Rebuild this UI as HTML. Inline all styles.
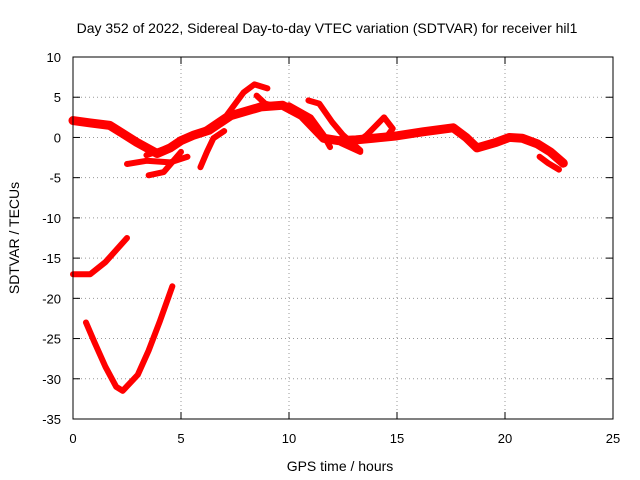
<!DOCTYPE html>
<html><head><meta charset="utf-8"><style>
body{margin:0;background:#fff}
svg{display:block;font-family:"Liberation Sans",sans-serif;font-size:13px}
</style></head><body>
<svg id="chart" width="640" height="480" viewBox="0 0 640 480">
<text x="327" y="33" text-anchor="middle" font-size="14">Day 352 of 2022, Sidereal Day-to-day VTEC variation (SDTVAR) for receiver hil1</text>
<g id="grid"></g>
<g id="marks"></g>
<rect x="73" y="57" width="540" height="362" fill="none" stroke="#000" stroke-width="1"/>
<g id="ticks"></g>
<text x="340" y="471" text-anchor="middle" font-size="14">GPS time / hours</text>
<text transform="translate(19,238) rotate(-90)" text-anchor="middle" font-size="14">SDTVAR / TECUs</text>
</svg>
<script>
const xTicks=[0,5,10,15,20,25];
const yTicks=[10,5,0,-5,-10,-15,-20,-25,-30,-35];
const seriesMain=[[0,2.1],[0.8,1.8],[1.7,1.5],[2.3,0.5],[2.95,-0.6],[3.9,-2],[4.5,-1.3],[5,-0.4],[5.6,0.3],[6.3,0.9],[7.3,2.7],[8.7,3.8],[9.7,4],[10.6,2.7],[11.6,-0.1],[12.3,-0.4],[13.1,-0.3],[13.9,-0.1],[15,0.2],[16.2,0.7],[17.6,1.2],[18.2,0],[18.7,-1.3],[19.6,-0.6],[20.2,0],[20.8,-0.1],[21.5,-0.8],[22.1,-1.8],[22.7,-3.2]];
const seriesEnd2=[[21.6,-2.4],[22,-3.2],[22.5,-4]];
const seriesUp=[[3.4,-2.2],[4.5,-1.2],[6,0.7],[7.1,2.7],[7.9,5.6],[8.4,6.6],[9,6.1]];
const seriesUp2=[[8.5,5.2],[8.9,4.2],[9.5,3.8]];
const seriesLow1=[[2.5,-3.3],[3.4,-2.9],[4.5,-3.1],[5.3,-2.4]];
const seriesLow2=[[3.5,-4.7],[4.2,-4.3],[5,-1.8]];
const seriesRise=[[5.9,-3.7],[6.2,-1.8],[6.5,-0.1],[7,0.8]];
const seriesMid=[[10.9,4.6],[11.4,4.2],[12,1.9],[12.5,0.3],[13.3,-1.6]];
const seriesMid2=[[10,4],[11,2.5],[11.6,0.3],[11.9,-1.2]];
const seriesMid3=[[12.4,-0.7],[13.3,-1.8]];
const seriesLoop=[[13.3,-0.3],[13.6,0.3],[14.4,2.5],[14.8,1.1],[14.5,0]];
const seriesC=[[0,-17],[0.8,-17],[1.5,-15.5],[2.5,-12.5]];
const seriesD=[[0.6,-23],[1,-25.5],[1.5,-28.5],[2,-31],[2.3,-31.5],[3,-29.5],[3.5,-26.5],[4,-23],[4.6,-18.5]];
const allSeries=[seriesMain,seriesEnd2,seriesUp,seriesUp2,seriesLow1,seriesLow2,seriesRise,seriesMid,seriesMid2,seriesMid3,seriesLoop,seriesC,seriesD];
const X=v=>73+v*540/25, Y=v=>57+(10-v)*362/45;
const NS="http://www.w3.org/2000/svg";
const grid=document.getElementById('grid'),ticks=document.getElementById('ticks'),marks=document.getElementById('marks');
function mk(tag,attrs,parent){const e=document.createElementNS(NS,tag);for(const k in attrs)e.setAttribute(k,attrs[k]);parent.appendChild(e);return e;}
xTicks.forEach(t=>{
 const gl=mk('line',{x1:X(t),x2:X(t),y1:57,y2:419,stroke:'#999','stroke-dasharray':'1,3'},grid);
 
 
 const tx=mk('text',{x:X(t),y:443,'text-anchor':'middle'},ticks);tx.textContent=t;
 
 
 mk('line',{x1:X(t),x2:X(t),y1:419,y2:412,stroke:'#000'},ticks);
 mk('line',{x1:X(t),x2:X(t),y1:57,y2:64,stroke:'#000'},ticks);
});
yTicks.forEach(t=>{
 const gl=mk('line',{x1:73,x2:613,y1:Y(t),y2:Y(t),stroke:'#999','stroke-dasharray':'1,3'},grid);
 
 
 const tx=mk('text',{x:61,y:Y(t)+5,'text-anchor':'end'},ticks);tx.textContent=t;
 
 
 mk('line',{x1:73,x2:80,y1:Y(t),y2:Y(t),stroke:'#000'},ticks);
 mk('line',{x1:613,x2:606,y1:Y(t),y2:Y(t),stroke:'#000'},ticks);
});
allSeries.forEach((s,i)=>{
 const p=mk('polyline',{points:s.map(d=>X(d[0])+','+Y(d[1])).join(' '),fill:'none',stroke:'#f00','stroke-width':i===0?9:6,'stroke-linejoin':'round','stroke-linecap':'round'},marks);
 
 
});
</script>
</body></html>
